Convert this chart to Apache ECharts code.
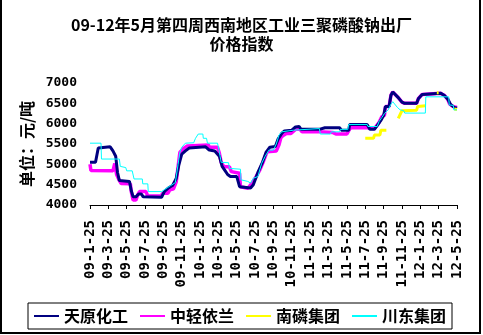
<!DOCTYPE html>
<html>
<head>
<meta charset="utf-8">
<script src="https://cdn.jsdelivr.net/npm/echarts@6/dist/echarts.min.js"></script>
<style>
  html, body { margin: 0; padding: 0; background: #fff; }
  #chart { width: 483px; height: 335px; }
</style>
</head>
<body>
<div id="chart"></div>
<script>
// X positions are months counted from 2009-01-25; values are yuan per tonne.
const tickLabels = ['09-1-25','09-3-25','09-5-25','09-7-25','09-9-25','09-11-25',
  '10-1-25','10-3-25','10-5-25','10-7-25','10-9-25','10-11-25',
  '11-1-25','11-3-25','11-5-25','11-7-25','11-9-25','11-11-25',
  '12-1-25','12-3-25','12-5-25'];

const seriesNames = ['天原化工', '中轻依兰', '南磷集团', '川东集团'];

const tianyuan = [
  [0,5050],[0.6,5050],[0.9,5400],[1.1,5430],[2.2,5430],[2.5,5330],[2.8,5200],[3.0,4800],
  [3.2,4600],[4.3,4580],[4.5,4350],[4.7,4200],[5.0,4200],[5.3,4270],[5.6,4270],[5.8,4200],
  [7.8,4190],[8.1,4330],[8.5,4410],[9.0,4480],[9.4,4650],[9.7,5000],[10.0,5250],[10.4,5330],
  [10.8,5400],[11.0,5430],[12.6,5430],[13.0,5350],[13.6,5330],[14.1,5200],[14.4,4950],
  [14.7,4850],[15.0,4750],[15.3,4700],[16.0,4700],[16.3,4450],[17.5,4420],[17.8,4500],
  [18.3,4800],[18.8,5050],[19.2,5300],[19.6,5420],[20.2,5440],[20.5,5620],[20.9,5760],
  [21.2,5820],[22.0,5840],[22.4,5920],[22.8,5930],[23.0,5860],[25.0,5860],[25.6,5900],
  [27.2,5900],[27.4,5840],[28.2,5840],[28.3,5980],[30.2,5980],[30.5,5860],[31.0,5860],
  [31.3,5950],[31.7,6080],[32.0,6200],[32.2,6420],[32.6,6420],[32.8,6700],[33.0,6780],
  [33.6,6640],[34.0,6530],[34.3,6500],[35.6,6500],[35.8,6620],[36.2,6720],[36.4,6750],
  [38.2,6750],[38.6,6700],[39.0,6600],[39.3,6470],[39.7,6400],[40,6380]
];

const zhongqing = [
  [0,5000],[0.1,4850],[2.5,4840],[2.7,5020],[2.9,4750],[3.2,4600],[3.4,4530],[4.4,4520],
  [4.5,4330],[4.7,4120],[5.0,4120],[5.2,4250],[5.4,4330],[6.1,4330],[6.3,4220],[7.8,4220],
  [7.9,4290],[8.5,4290],[8.7,4370],[9.1,4400],[9.4,4570],[9.6,4940],[9.8,5300],[10.2,5390],
  [10.6,5450],[10.8,5475],[12.9,5475],[13.0,5420],[13.9,5420],[14.1,5270],[14.3,5050],
  [14.6,4940],[15.2,4940],[15.4,4820],[15.6,4780],[16.3,4780],[16.4,4450],[17.2,4410],
  [17.7,4550],[18.1,4700],[18.5,4860],[18.9,5070],[19.3,5310],[19.5,5330],[20.3,5330],
  [20.6,5480],[20.8,5650],[21.0,5700],[21.4,5760],[21.9,5760],[22.1,5800],[22.4,5860],
  [22.9,5860],[23.1,5800],[25.0,5800],[25.2,5780],[26.5,5780],[26.8,5745],[28.0,5745],
  [28.2,5830],[28.4,5900],[30.2,5900],[30.4,5880],[31.0,5880],[31.5,6030],[31.8,6170],
  [32.1,6210],[32.2,6420],[32.6,6420],[32.8,6700],[33.0,6780],[33.6,6640],[34.0,6530],
  [34.3,6500],[35.6,6500],[35.8,6620],[36.2,6720],[36.4,6750],[38.2,6750],[38.6,6700],
  [39.0,6600],[39.2,6480],[39.6,6420],[40,6400]
];

// '-' marks weeks with no quote, so the line breaks there.
const nanlin = [
  [30.0,5640],[30.9,5640],[31.0,5720],[31.6,5720],[31.7,5840],[32.3,5840],[32.6,'-'],
  [33.6,6130],[33.8,6150],[34.0,6320],[35.6,6330],[35.7,6420],[36.6,6440],[37.0,'-'],
  [37.8,6760],[38.0,6760],[38.5,'-'],
  [39.7,6360],[40,6350]
];

const chuandong = [
  [0,5520],[1.2,5520],[1.25,5130],[3.2,5130],[3.3,4950],[3.45,4920],[3.9,4920],[4.0,4840],
  [4.6,4840],[4.8,4640],[5.7,4640],[5.75,4520],[6.3,4520],[6.35,4330],[7.8,4330],[8.0,4370],
  [8.4,4420],[8.8,4480],[9.3,4550],[9.6,5000],[9.8,5300],[10.0,5420],[10.4,5520],[11.3,5530],
  [11.5,5640],[11.8,5745],[12.3,5745],[12.35,5640],[12.7,5640],[12.8,5520],[13.9,5520],
  [14.1,5300],[14.3,5050],[15.1,5040],[15.2,4900],[16.4,4880],[16.45,4620],[17.2,4580],
  [17.5,4540],[17.8,4660],[18.3,4700],[18.7,5020],[19.1,5200],[19.5,5350],[20.0,5350],
  [20.3,5500],[20.6,5720],[20.9,5800],[22.2,5840],[22.3,5880],[25.0,5880],[25.1,5745],
  [26.2,5745],[26.3,5800],[27.2,5800],[27.3,5860],[28.1,5860],[28.2,5980],[30.2,5980],
  [30.3,5930],[31.3,5930],[31.5,6050],[31.8,6150],[32.1,6250],[32.5,6340],[32.8,6480],
  [33.0,6540],[33.5,6400],[33.8,6340],[34.2,6320],[34.3,6260],[36.55,6260],[36.6,6660],
  [39.1,6660],[39.15,6460],[39.6,6450],[39.65,6340],[40,6340]
];

const chart = echarts.init(document.getElementById('chart'), null, { renderer: 'canvas' });

const cjk = '"Noto Sans CJK SC", sans-serif';
const mono = '"DejaVu Sans Mono", monospace';

function lineSeries(name, data, color, width, z) {
  return {
    name: name,
    type: 'line',
    data: data,
    symbol: 'none',
    z: z,
    connectNulls: false,
    lineStyle: { color: color, width: width },
    itemStyle: { color: color }
  };
}

chart.setOption({
  animation: false,
  backgroundColor: '#fff',
  title: {
    text: '09-12年5月第四周西南地区工业三聚磷酸钠出厂\n价格指数',
    left: 'center',
    top: 15,
    padding: 0,
    textStyle: {
      fontFamily: cjk, fontSize: 16, fontWeight: 'bold', color: '#000', lineHeight: 19
    }
  },
  legend: {
    data: seriesNames,
    left: 28,
    top: 303,
    orient: 'horizontal',
    itemWidth: 25,
    itemHeight: 14,
    itemGap: 11,
    padding: [5, 6, 5, 5],
    borderColor: '#000',
    borderWidth: 1,
    // only the line sample is shown, no marker on it
    itemStyle: { opacity: 0, borderWidth: 0 },
    textStyle: { fontFamily: cjk, fontSize: 16, fontWeight: 'bold', color: '#000' }
  },
  grid: { left: 90, right: 26, top: 83, bottom: 130, containLabel: false },
  xAxis: {
    type: 'value',
    min: 0,
    max: 40,
    interval: 2,
    axisLine: { show: true, lineStyle: { color: '#000', width: 1 } },
    axisTick: { show: true, length: 4, lineStyle: { color: '#000' } },
    splitLine: { show: false },
    axisLabel: {
      rotate: 90,
      margin: 15,
      fontFamily: mono,
      fontSize: 14,
      fontWeight: 'bold',
      color: '#000',
      formatter: function (v) { return tickLabels[Math.round(v / 2)] || ''; }
    }
  },
  yAxis: {
    type: 'value',
    min: 4000,
    max: 7000,
    interval: 500,
    name: '单位：元/吨',
    nameLocation: 'middle',
    nameRotate: 90,
    nameGap: 49,
    nameTextStyle: { fontFamily: cjk, fontSize: 16, fontWeight: 'bold', color: '#000' },
    axisLine: { show: false },
    axisTick: { show: false },
    splitLine: { show: false },
    axisLabel: {
      margin: 13,
      fontFamily: mono,
      fontSize: 13,
      fontWeight: 'bold',
      color: '#000',
      formatter: function (v) { return String(v); }
    }
  },
  graphic: [{
    type: 'rect',
    silent: true,
    shape: { x: 1, y: -5, width: 479, height: 338 },
    style: { fill: 'none', stroke: '#000', lineWidth: 2 }
  }],
  series: [
    lineSeries(seriesNames[0], tianyuan, '#000080', 3, 3),
    lineSeries(seriesNames[1], zhongqing, '#FF00FF', 3.5, 2),
    lineSeries(seriesNames[2], nanlin, '#FFFF00', 3, 4),
    lineSeries(seriesNames[3], chuandong, '#00FFFF', 1, 5)
  ]
});
</script>
</body>
</html>
